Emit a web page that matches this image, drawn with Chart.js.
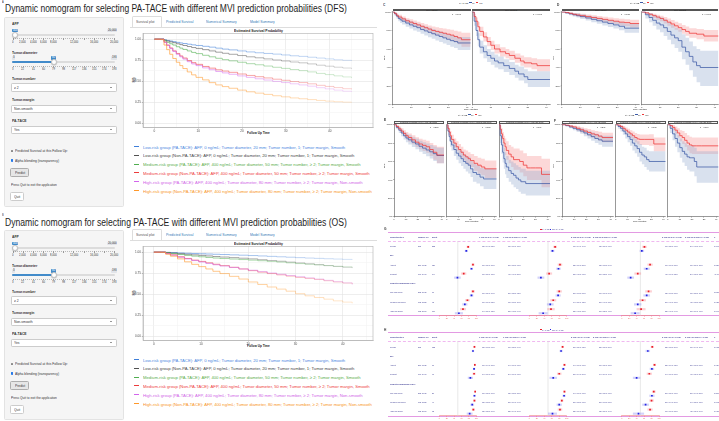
<!DOCTYPE html>
<html><head><meta charset="utf-8">
<script src="https://cdn.jsdelivr.net/npm/chart.js@4.4.1/dist/chart.umd.min.js"></script>
<style>
html,body{margin:0;padding:0;background:#fff;}
body{width:719px;height:421px;position:relative;overflow:hidden;font-family:"Liberation Sans",Arial,Helvetica,sans-serif;}
.t{position:absolute;white-space:nowrap;line-height:1;transform-origin:0 0;font-size:20px;color:#222;}
.b{position:absolute;box-sizing:border-box;}
canvas{position:absolute;}
</style></head><body>
<script>
// ================= DATA =================
// Panels A/B: DynNom predicted survival curves (6 profiles)
const groupLabels = [
  "Low-risk group (PA-TACE): AFP, 0 ng/mL; Tumor diameter, 20 mm; Tumor number, 1; Tumor margin, Smooth",
  "Low-risk group (Non-PA-TACE): AFP, 0 ng/mL; Tumor diameter, 20 mm; Tumor number, 1; Tumor margin, Smooth",
  "Medium-risk group (PA-TACE): AFP, 400 ng/mL; Tumor diameter, 50 mm; Tumor number, \u2265 2; Tumor margin, Smooth",
  "Medium-risk group (Non-PA-TACE): AFP, 400 ng/mL; Tumor diameter, 50 mm; Tumor number, \u2265 2; Tumor margin, Smooth",
  "High-risk group (PA-TACE): AFP, 400 ng/mL; Tumor diameter, 80 mm; Tumor number, \u2265 2; Tumor margin, Non-smooth",
  "High-risk group (Non-PA-TACE): AFP, 400 ng/mL; Tumor diameter, 80 mm; Tumor number, \u2265 2; Tumor margin, Non-smooth"
];
const dfsTime   = [0,1.5,2.2,2.8,3.5,4.2,5,5.8,6.5,7.5,8.5,9.5,11,12.5,14,15.5,17,19,21,23,25,27,29,31,33,35,37,39,41,43,45];
const dfsLowPA  = [1,1,0.992,0.985,0.978,0.97,0.962,0.955,0.948,0.94,0.932,0.925,0.915,0.905,0.893,0.882,0.872,0.86,0.848,0.838,0.83,0.822,0.812,0.802,0.795,0.785,0.775,0.765,0.755,0.748,0.742];
const dfsLowNon = [1,1,0.988,0.978,0.968,0.958,0.945,0.935,0.925,0.912,0.9,0.89,0.875,0.86,0.845,0.832,0.82,0.805,0.79,0.778,0.765,0.752,0.74,0.728,0.718,0.705,0.69,0.678,0.666,0.656,0.648];
const dfsMedPA  = [1,1,0.98,0.962,0.945,0.93,0.91,0.893,0.878,0.86,0.842,0.828,0.808,0.79,0.772,0.756,0.742,0.725,0.708,0.695,0.68,0.665,0.652,0.638,0.625,0.61,0.592,0.578,0.563,0.55,0.54];
const dfsMedNon = [1,1,0.965,0.93,0.895,0.86,0.83,0.8,0.775,0.745,0.72,0.7,0.675,0.655,0.635,0.62,0.605,0.585,0.568,0.553,0.538,0.523,0.51,0.495,0.483,0.468,0.45,0.437,0.423,0.41,0.402];
const dfsHighPA = [1,1,0.962,0.925,0.89,0.855,0.82,0.79,0.763,0.732,0.705,0.685,0.658,0.636,0.615,0.598,0.582,0.562,0.545,0.528,0.513,0.497,0.483,0.468,0.455,0.44,0.422,0.408,0.393,0.38,0.372];
const dfsHighNon= [1,0.995,0.93,0.875,0.82,0.77,0.725,0.685,0.65,0.61,0.575,0.545,0.515,0.482,0.455,0.435,0.415,0.393,0.373,0.357,0.342,0.326,0.313,0.3,0.29,0.28,0.27,0.262,0.255,0.25,0.247];

const osTime    = [0,1.5,2.5,3.5,5,6.5,8,9.5,11,12.5,14,16,18,20,22,24,26,28,30,32,34,36,38,40,42];
const osLowPA   = [1,1,0.998,0.995,0.99,0.987,0.984,0.981,0.978,0.975,0.972,0.968,0.964,0.96,0.955,0.95,0.945,0.94,0.935,0.93,0.926,0.922,0.918,0.914,0.91];
const osLowNon  = [1,1,0.996,0.99,0.982,0.975,0.968,0.962,0.955,0.948,0.942,0.935,0.928,0.92,0.91,0.9,0.892,0.882,0.872,0.862,0.852,0.84,0.83,0.82,0.81];
const osMedPA   = [1,1,0.993,0.984,0.972,0.962,0.953,0.945,0.937,0.93,0.924,0.918,0.912,0.905,0.898,0.89,0.882,0.873,0.864,0.856,0.848,0.84,0.832,0.825,0.818];
const osMedNon  = [1,1,0.985,0.968,0.945,0.925,0.905,0.89,0.873,0.856,0.84,0.82,0.8,0.78,0.762,0.745,0.73,0.715,0.7,0.688,0.675,0.66,0.645,0.632,0.62];
const osHighPA  = [1,1,0.983,0.965,0.94,0.92,0.9,0.883,0.866,0.85,0.835,0.818,0.8,0.785,0.768,0.752,0.737,0.722,0.708,0.694,0.68,0.665,0.65,0.635,0.61];
const osHighNon = [1,0.998,0.975,0.952,0.92,0.885,0.855,0.828,0.8,0.772,0.745,0.712,0.68,0.645,0.615,0.585,0.56,0.535,0.505,0.48,0.46,0.44,0.42,0.405,0.39];

// slider grids
const afpGrid = [0,2000,4000,6000,8000,10000,12000,14000,16000,18000,20000];
const afpGridLabels = [0,2000,4000,6000,8000,12000,16000,20000];
const diamGrid = [3,22,41,60,79,98,117,136,155,174,193];

// Panels C-F: Kaplan-Meier (no = Non-PA-TACE blue, yes = PA-TACE red); T time, S surv, L lower, U upper
const kmXTicks = [0,10,20,30,40];
const C1noT=[0,1,2,3,4,5,7,9,11,13,15,17,19,21,23,25,27,29,31,33,35,42];
const C1noS=[1,0.98,0.955,0.93,0.915,0.9,0.88,0.86,0.845,0.83,0.81,0.795,0.78,0.765,0.75,0.735,0.72,0.705,0.69,0.68,0.665,0.665];
const C1noL=[1,0.96,0.93,0.9,0.88,0.865,0.84,0.82,0.8,0.785,0.765,0.745,0.728,0.71,0.692,0.676,0.66,0.642,0.625,0.61,0.59,0.59];
const C1noU=[1,1,0.98,0.96,0.95,0.935,0.915,0.9,0.885,0.872,0.855,0.842,0.83,0.815,0.8,0.788,0.775,0.762,0.75,0.742,0.73,0.73];
const C1yesT=[0,1,2,3,5,7,9,11,13,15,17,19,21,23,25,27,29,31,33,35,37,42];
const C1yesS=[1,0.985,0.965,0.945,0.925,0.905,0.89,0.875,0.86,0.845,0.83,0.815,0.8,0.79,0.78,0.77,0.76,0.75,0.735,0.72,0.7,0.7];
const C1yesL=[1,0.97,0.945,0.92,0.9,0.878,0.86,0.843,0.826,0.81,0.793,0.776,0.758,0.746,0.733,0.72,0.706,0.692,0.672,0.652,0.625,0.625];
const C1yesU=[1,1,0.985,0.97,0.952,0.933,0.92,0.907,0.894,0.88,0.867,0.854,0.842,0.834,0.827,0.82,0.814,0.808,0.798,0.788,0.775,0.775];
const C2noT=[0,1,2,3,4,6,8,10,12,14,17,20,23,25,28,30,42];
const C2noS=[1,0.9,0.8,0.7,0.62,0.57,0.53,0.5,0.47,0.45,0.42,0.39,0.36,0.33,0.3,0.27,0.27];
const C2noL=[1,0.85,0.74,0.63,0.55,0.5,0.46,0.43,0.4,0.38,0.35,0.32,0.29,0.26,0.23,0.19,0.19];
const C2noU=[1,0.95,0.86,0.77,0.69,0.64,0.6,0.57,0.54,0.52,0.49,0.46,0.43,0.41,0.38,0.36,0.36];
const C2yesT=[0,1,2,3,4,6,8,10,12,15,18,20,23,26,28,32,35,42];
const C2yesS=[1,0.95,0.9,0.84,0.79,0.73,0.68,0.64,0.6,0.57,0.55,0.53,0.5,0.47,0.45,0.44,0.42,0.42];
const C2yesL=[1,0.92,0.86,0.8,0.74,0.68,0.63,0.59,0.55,0.52,0.5,0.48,0.45,0.42,0.4,0.38,0.36,0.36];
const C2yesU=[1,0.98,0.94,0.89,0.84,0.78,0.73,0.69,0.65,0.62,0.6,0.58,0.55,0.53,0.51,0.5,0.49,0.49];

const D1noT=[0,2,4,6,8,10,13,16,19,22,25,28,31,34,42];
const D1noS=[1,0.99,0.98,0.97,0.96,0.95,0.935,0.92,0.905,0.89,0.875,0.86,0.845,0.825,0.825];
const D1noL=[1,0.98,0.965,0.95,0.94,0.925,0.908,0.89,0.873,0.855,0.838,0.82,0.802,0.775,0.775];
const D1noU=[1,1,0.995,0.99,0.985,0.975,0.962,0.95,0.937,0.925,0.912,0.9,0.888,0.875,0.875];
const D1yesT=[0,2,4,6,8,10,13,16,19,22,25,28,31,34,37,42];
const D1yesS=[1,0.995,0.985,0.975,0.968,0.96,0.95,0.94,0.93,0.92,0.91,0.9,0.89,0.885,0.875,0.875];
const D1yesL=[1,0.985,0.972,0.96,0.95,0.94,0.928,0.916,0.904,0.892,0.88,0.867,0.854,0.846,0.832,0.832];
const D1yesU=[1,1,0.996,0.99,0.985,0.98,0.972,0.964,0.956,0.948,0.94,0.933,0.926,0.922,0.916,0.916];
const D2noT=[0,2,4,6,8,10,12,14,16,18,20,22,24,26,28,30,32,42];
const D2noS=[1,0.97,0.94,0.91,0.88,0.86,0.83,0.79,0.75,0.72,0.69,0.62,0.57,0.52,0.46,0.42,0.4,0.4];
const D2noL=[1,0.93,0.89,0.85,0.81,0.78,0.74,0.7,0.65,0.61,0.57,0.49,0.43,0.37,0.3,0.24,0.2,0.2];
const D2noU=[1,1,0.99,0.97,0.95,0.94,0.92,0.89,0.86,0.83,0.81,0.76,0.72,0.68,0.63,0.6,0.58,0.58];
const D2yesT=[0,2,4,6,8,10,12,14,16,18,20,22,24,26,30,34,42];
const D2yesS=[1,0.99,0.975,0.96,0.945,0.93,0.91,0.89,0.87,0.85,0.83,0.81,0.79,0.77,0.76,0.74,0.74];
const D2yesL=[1,0.975,0.955,0.935,0.915,0.9,0.875,0.852,0.83,0.808,0.786,0.764,0.742,0.72,0.706,0.68,0.68];
const D2yesU=[1,1,0.99,0.98,0.97,0.96,0.945,0.93,0.912,0.895,0.878,0.86,0.842,0.825,0.816,0.805,0.805];

const E1noT=[0,2,4,6,8,10,12,15,18,21,24,27,30,33,36,42];
const E1noS=[1,0.97,0.94,0.91,0.88,0.855,0.835,0.81,0.79,0.765,0.745,0.725,0.705,0.685,0.665,0.665];
const E1noL=[1,0.95,0.91,0.875,0.84,0.81,0.785,0.757,0.733,0.705,0.68,0.656,0.632,0.606,0.58,0.58];
const E1noU=[1,0.99,0.97,0.945,0.92,0.9,0.885,0.863,0.847,0.825,0.81,0.794,0.778,0.764,0.75,0.75];
const E1yesT=[0,2,4,6,8,10,12,15,18,21,24,27,30,33,36,42];
const E1yesS=[1,0.98,0.955,0.93,0.905,0.88,0.86,0.835,0.81,0.79,0.775,0.76,0.73,0.7,0.67,0.67];
const E1yesL=[1,0.96,0.93,0.9,0.87,0.84,0.815,0.786,0.756,0.732,0.714,0.696,0.66,0.62,0.58,0.58];
const E1yesU=[1,1,0.98,0.96,0.94,0.92,0.905,0.884,0.864,0.848,0.836,0.824,0.8,0.78,0.76,0.76];
const E2noT=[0,1,2,3,4,6,8,10,12,14,16,18,20,22,25,28,31,42];
const E2noS=[1,0.93,0.87,0.82,0.78,0.73,0.69,0.66,0.63,0.6,0.58,0.56,0.52,0.48,0.46,0.43,0.41,0.41];
const E2noL=[1,0.89,0.82,0.76,0.72,0.66,0.62,0.58,0.55,0.52,0.49,0.47,0.43,0.38,0.36,0.33,0.3,0.3];
const E2noU=[1,0.97,0.92,0.88,0.84,0.8,0.76,0.73,0.71,0.68,0.66,0.65,0.61,0.58,0.56,0.53,0.52,0.52];
const E2yesT=[0,1,2,3,4,6,8,10,12,14,16,18,20,23,26,29,32,42];
const E2yesS=[1,0.96,0.92,0.88,0.84,0.8,0.76,0.73,0.7,0.67,0.65,0.63,0.61,0.58,0.56,0.54,0.52,0.52];
const E2yesL=[1,0.93,0.88,0.83,0.79,0.75,0.71,0.67,0.64,0.61,0.58,0.56,0.54,0.5,0.47,0.45,0.42,0.42];
const E2yesU=[1,0.99,0.96,0.93,0.89,0.85,0.82,0.79,0.76,0.73,0.72,0.7,0.68,0.66,0.64,0.63,0.61,0.61];
const E3noT=[0,1,2,3,4,5,6,8,10,12,14,16,18,22,42];
const E3noS=[1,0.88,0.78,0.7,0.63,0.58,0.54,0.5,0.47,0.45,0.42,0.4,0.38,0.36,0.36];
const E3noL=[1,0.8,0.68,0.59,0.52,0.46,0.42,0.38,0.35,0.32,0.3,0.27,0.25,0.23,0.23];
const E3noU=[1,0.95,0.88,0.81,0.75,0.7,0.66,0.62,0.6,0.58,0.56,0.54,0.52,0.5,0.5];
const E3yesT=[0,1,2,3,4,5,6,8,10,12,14,17,20,23,26,30,35,42];
const E3yesS=[1,0.95,0.9,0.85,0.8,0.76,0.72,0.68,0.65,0.62,0.62,0.6,0.56,0.53,0.53,0.53,0.46,0.46];
const E3yesL=[1,0.9,0.83,0.77,0.71,0.67,0.62,0.58,0.54,0.51,0.51,0.48,0.44,0.4,0.4,0.4,0.32,0.32];
const E3yesU=[1,0.99,0.96,0.92,0.88,0.85,0.82,0.78,0.76,0.74,0.74,0.72,0.69,0.66,0.66,0.66,0.63,0.63];

const F1noT=[0,3,6,9,12,15,18,21,24,27,30,33,42];
const F1noS=[1,0.99,0.975,0.96,0.945,0.93,0.91,0.89,0.87,0.85,0.835,0.82,0.82];
const F1noL=[1,0.98,0.96,0.94,0.92,0.9,0.875,0.85,0.825,0.8,0.782,0.76,0.76];
const F1noU=[1,1,0.99,0.98,0.97,0.96,0.945,0.93,0.915,0.9,0.888,0.88,0.88];
const F1yesT=[0,3,6,9,12,15,18,21,24,27,30,33,42];
const F1yesS=[1,0.995,0.985,0.975,0.96,0.945,0.93,0.915,0.9,0.89,0.875,0.86,0.86];
const F1yesL=[1,0.985,0.97,0.955,0.935,0.915,0.897,0.878,0.86,0.846,0.828,0.81,0.81];
const F1yesU=[1,1,0.997,0.992,0.982,0.972,0.962,0.952,0.94,0.932,0.922,0.912,0.912];
const F2noT=[0,2,4,6,8,10,12,14,16,18,20,22,24,26,28,42];
const F2noS=[1,0.98,0.96,0.93,0.9,0.87,0.84,0.8,0.77,0.74,0.7,0.67,0.65,0.62,0.6,0.6];
const F2noL=[1,0.955,0.925,0.89,0.85,0.81,0.77,0.72,0.69,0.65,0.6,0.57,0.54,0.51,0.49,0.49];
const F2noU=[1,1,0.99,0.97,0.945,0.92,0.9,0.87,0.85,0.82,0.79,0.76,0.75,0.72,0.71,0.71];
const F2yesT=[0,2,4,6,8,10,12,14,16,18,20,24,28,32,42];
const F2yesS=[1,0.995,0.98,0.96,0.94,0.92,0.9,0.88,0.86,0.845,0.84,0.84,0.84,0.79,0.79];
const F2yesL=[1,0.98,0.96,0.93,0.905,0.88,0.855,0.83,0.805,0.787,0.78,0.78,0.77,0.71,0.71];
const F2yesU=[1,1,0.995,0.985,0.97,0.955,0.94,0.925,0.91,0.898,0.893,0.893,0.895,0.86,0.86];
const F3noT=[0,2,4,6,8,10,12,14,16,18,20,22,24,42];
const F3noS=[1,0.96,0.9,0.85,0.8,0.75,0.71,0.68,0.65,0.64,0.64,0.6,0.54,0.54];
const F3noL=[1,0.91,0.83,0.76,0.7,0.64,0.59,0.55,0.51,0.49,0.49,0.44,0.37,0.37];
const F3noU=[1,1,0.96,0.93,0.89,0.85,0.82,0.8,0.78,0.77,0.77,0.75,0.71,0.71];
const F3yesT=[0,2,4,6,8,10,12,14,16,18,20,24,28,42];
const F3yesS=[1,0.99,0.97,0.94,0.91,0.88,0.86,0.83,0.8,0.78,0.77,0.77,0.77,0.77];
const F3yesL=[1,0.97,0.94,0.9,0.86,0.82,0.79,0.76,0.72,0.69,0.68,0.68,0.68,0.68];
const F3yesU=[1,1,0.995,0.98,0.96,0.94,0.93,0.91,0.885,0.87,0.86,0.86,0.86,0.86];

// Panels G/H: forest plots (% survival), data rows = Overall, Absent, Present, Low, Medium, High
const forestRowLabels = ["Overall","MVI","Absent","Present","Predicted nomogram of MVI","Low-risk group","Medium-risk group","High-risk group"];
const forestDataRows = [0,2,3,5,6,7];
const forestN  = ["568","","371 (65.3)","197 (34.7)","","213 (37.5)","192 (33.8)","163 (28.7)"];
const gEvents  = ["283","","139","144","","76","98","109"];
const hEvents  = ["152","","61","91","","31","49","72"];
const gP = ["0.107","","0.226","<0.001","","0.558","0.038","0.007"];
const hP = ["0.013","","0.129","<0.001","","0.387","0.003","0.018"];
const g1Red=[78,91,66,91,76,64], g1RedLo=[74,87,59,86,70,56], g1RedHi=[82,95,73,96,82,72];
const g1Blue=[73,87,49,87,69,53], g1BlueLo=[69,83,40,82,62,42], g1BlueHi=[77,91,58,92,76,64];
const g2Red=[69,82,53,80,64,58], g2RedLo=[64,76,45,73,56,48], g2RedHi=[74,88,61,87,72,68];
const g2Blue=[62,78,31,77,56,37], g2BlueLo=[57,72,22,70,47,25], g2BlueHi=[67,84,40,84,65,49];
const g3Red=[61,76,43,72,56,52], g3RedLo=[55,69,34,63,47,40], g3RedHi=[67,83,52,81,65,64];
const g3Blue=[54,67,24,67,43,36], g3BlueLo=[48,59,15,58,33,24], g3BlueHi=[60,75,33,76,53,48];
const h1Red=[95,96,94,97,95,92], h1RedLo=[93,94,90,95,92,88], h1RedHi=[97,98,98,99,98,96];
const h1Blue=[91,94,84,95,89,82], h1BlueLo=[88,91,77,92,84,74], h1BlueHi=[94,97,91,98,94,90];
const h2Red=[89,94,80,94,87,82], h2RedLo=[86,91,74,91,83,76], h2RedHi=[92,97,86,97,91,88];
const h2Blue=[85,91,64,93,80,62], h2BlueLo=[81,87,54,89,73,50], h2BlueHi=[89,95,74,97,87,74];
const h3Red=[82,88,74,86,80,76], h3RedLo=[78,84,67,81,74,69], h3RedHi=[86,92,81,91,86,83];
const h3Blue=[70,81,40,81,64,45], h3BlueLo=[64,75,30,74,55,30], h3BlueHi=[76,87,50,88,73,60];
const forestTicks=[0,20,40,60,80,100];

// ================= HELPERS =================
Chart.defaults.font.family='"Liberation Sans", Arial, sans-serif';
function mkText(s,o){const d=document.createElement('div');d.className='t';d.textContent=s;if(o.c)d.style.color=o.c;if(o.b)d.style.fontWeight='bold';document.body.appendChild(d);return d;}
function txt(x,yc,s,size,o={}){const d=mkText(s,o);const k=size/20;const w0=d.offsetWidth;const kx=o.w?o.w/w0:k;const w=w0*kx;let l=x;if(o.a==='c')l=x-w/2;else if(o.a==='r')l=x-w;d.style.left=l+'px';d.style.top=(yc-size*0.5)+'px';d.style.transform=`scale(${kx},${k})`;d._w=w;d._l=l;return d;}
function vtxt(xc,yc,s,size,o={}){const d=mkText(s,o);const w0=d.offsetWidth;d.style.left=(xc-w0/2)+'px';d.style.top=(yc-10)+'px';d.style.transformOrigin='50% 50%';d.style.transform=`rotate(-90deg) scale(${size/20})`;return d;}
function box(x,y,w,h,css){const d=document.createElement('div');d.className='b';d.style.cssText+=`left:${x}px;top:${y}px;width:${w}px;height:${h}px;`+(css||'');document.body.appendChild(d);return d;}
function pill(x,yc,s,size,bg,col,anchor){const d=txt(x,yc,s,size,{c:col,a:anchor});const b=box(d._l-1,yc-size*0.62,d._w+2,size*1.24,`background:${bg};border-radius:0.8px;`);document.body.insertBefore(b,d);return d;}
function mkChart(l,t,w,h,cfg){const c=document.createElement('canvas');c.width=w;c.height=h;c.style.left=l+'px';c.style.top=t+'px';c.style.width=w+'px';c.style.height=h+'px';document.body.appendChild(c);
  cfg.options=Object.assign({responsive:false,maintainAspectRatio:false,animation:false,devicePixelRatio:1,events:[]},cfg.options);
  cfg.options.plugins=Object.assign({legend:{display:false},tooltip:{enabled:false},title:{display:false}},cfg.options.plugins||{});
  return new Chart(c,cfg);}
function rgba(hex,a){const n=parseInt(hex.slice(1),16);return `rgba(${n>>16},${(n>>8)&255},${n&255},${a})`;}

// ================= PANELS A / B (Shiny DynNom) =================
const survColors=['#3f7fd9','#505050','#4fae4f','#ec3b3b','#d264ec','#ff982a'];
const legendTextColors=['#4a86e0','#444444','#5aad4a','#ee3c3c','#cf5fe6','#f7941e'];

function slider(yt,vmin,vmax,val,valTxt,minTxt,maxTxt,grid,labels){
  const xa=12.7,xb=114.3,px=v=>xa+(v-vmin)/(vmax-vmin)*(xb-xa);
  box(xa-1,yt-0.9,xb-xa+2,1.8,'background:#dcdcdc;border-radius:1px;');
  box(xa-1,yt-0.9,px(val)-xa+1,1.8,'background:#428bca;border-radius:1px;');
  for(let i=0;i<grid.length;i++){
    box(px(grid[i])-0.2,yt+3.3,0.4,1.8,'background:#999;');
    if(i<grid.length-1){for(let m=1;m<5;m++){const v=grid[i]+(grid[i+1]-grid[i])*m/5;box(px(v)-0.15,yt+3.3,0.3,1,'background:#bbb;');}}
  }
  labels.forEach(v=>txt(px(v),yt+7.1,v.toLocaleString('en-US'),2.7,{a:'c',c:'#333'}));
  if(minTxt)pill(13.5,yt-4.5,minTxt,2.8,'#e1e4e9','#333','c');
  pill(116.2,yt-4.5,maxTxt,2.8,'#e1e4e9','#333','r');
  pill(Math.max(px(val),15),yt-4.5,valTxt,2.8,'#428bca','#fff','c');
  box(Math.max(px(val),15)-3.2,yt-3.2,6.4,6.4,'background:#fff;border:0.5px solid #c4c4c4;border-radius:50%;box-shadow:0 0.4px 1px rgba(0,0,0,0.25);');
}
function selectBox(y0,y1,t){box(11,y0,106.3,y1-y0,'background:#fff;border:0.5px solid #ccc;border-radius:1.2px;');txt(14,(y0+y1)/2,t,3.4,{c:'#333'});box(110.2,(y0+y1)/2-0.6,0,0,'box-sizing:content-box;border-left:1.1px solid transparent;border-right:1.1px solid transparent;border-top:1.2px solid #333;');}
function checkbox(yc,checked,label){box(10.7,yc-1.4,2.8,2.8,checked?'background:#1a73e8;border-radius:0.5px;':'background:#fff;border:0.4px solid #888;border-radius:0.5px;');if(checked)txt(12.1,yc,'\u2713',2.4,{a:'c',c:'#fff',b:1});txt(15,yc,label,3.3,{c:'#333'});}
function button(x,y,w,h,t,bg,bd){box(x,y,w,h,`background:${bg};border:0.5px solid ${bd};border-radius:1.5px;`);txt(x+w/2,y+h/2,t,3.3,{a:'c',c:'#333'});}

const framePlugin={id:'frame',afterDraw(ch){const a=ch.chartArea,c=ch.ctx;c.save();c.strokeStyle='#b0b0b0';c.lineWidth=0.6;c.strokeRect(a.left,a.top,a.right-a.left,a.bottom-a.top);c.restore();}};

function shinyPanel(oy,letter,titleY,title,times,series,xmin,xmax,xend){
  txt(1.5,2+oy,letter,2.6,{c:'#333'});
  txt(5,titleY,title,10,{w:342,c:'#1e1e1e'});
  box(4.3,16.7+oy,119.7,190,'background:#f5f5f5;border:0.5px solid #e3e3e3;border-radius:1.5px;');
  txt(11.7,24+oy,'AFP',3.4,{b:1,c:'#333'});
  slider(35+oy,0,20000,400,'400',null,'20,000',afpGrid,afpGridLabels);
  txt(11.7,52.3+oy,'Tumor.diameter',3.4,{b:1,c:'#333'});
  slider(62.3+oy,3,193,80,'80','3','193',diamGrid,diamGrid);
  txt(11.7,78.3+oy,'Tumor.number',3.4,{b:1,c:'#333'});
  selectBox(83.3+oy,92+oy,'\u2265 2');
  txt(11.7,100+oy,'Tumor.margin',3.4,{b:1,c:'#333'});
  selectBox(104.7+oy,113.3+oy,'Non-smooth');
  txt(11.7,121+oy,'PA-TACE',3.4,{b:1,c:'#333'});
  selectBox(125.7+oy,134.3+oy,'Yes');
  checkbox(151+oy,false,'Predicted Survival at this Follow Up:');
  checkbox(160.7+oy,true,'Alpha blending (transparency)');
  button(10,167.7+oy,19.3,9,'Predict','#e6e6e6','#adadad');
  txt(10.7,185+oy,'Press Quit to exit the application',3.2,{c:'#333'});
  button(10,191.7+oy,14.3,9,'Quit','#fff','#ccc');
  // tabs
  box(130,26.5+oy,247,0.5,'background:#ddd;');
  box(131.7,15.7+oy,30,11.3,'background:#fff;border:0.5px solid #ddd;border-bottom:none;border-radius:1.5px 1.5px 0 0;');
  txt(136,21.7+oy,'Survival plot',3.4,{c:'#555'});
  txt(166,21.7+oy,'Predicted Survival',3.4,{c:'#337ab7'});
  txt(206,21.7+oy,'Numerical Summary',3.4,{c:'#337ab7'});
  txt(250,21.7+oy,'Model Summary',3.4,{c:'#337ab7'});
  // plot
  txt(258,30.7+oy,'Estimated Survival Probability',3.4,{a:'c',b:1});
  txt(258,132.7+oy,'Follow Up Time',3.1,{a:'c',b:1});
  vtxt(133.3,80.3+oy,'S(t)',3.1,{b:1});
  const x0=143,x1=373,y0=33.3+oy,y1=127.3+oy;
  const left=125,top=Math.floor(y0-4),W=252,H=Math.ceil(y1+9)-top;
  const isMajX=v=>Math.abs(v%10)<1e-6, isMajY=v=>{const q=v*4;return Math.abs(q-Math.round(q))<1e-6;};
  mkChart(left,top,W,H,{type:'line',
    data:{datasets:series.map((s,i)=>({data:times.map((t,j)=>({x:t,y:s[j]})),borderColor:survColors[i],borderWidth:0.8,pointRadius:0,stepped:'before',fill:false,order:6-i,
      segment:{borderColor:ctx=>rgba(survColors[i],0.85-0.6*Math.min(1,ctx.p0.parsed.x/xend))}}))},
    options:{layout:{padding:{left:0,top:y0-top,right:left+W-x1,bottom:0}},
      scales:{
        x:{type:'linear',min:xmin,max:xmax,afterFit:s=>{s.height=top+H-y1;},
          ticks:{stepSize:5,includeBounds:false,autoSkip:false,maxRotation:0,padding:0.8,font:{size:3.1},color:'#4d4d4d',callback:v=>isMajX(v)?String(v):''},
          grid:{color:c=>c.tick&&isMajX(c.tick.value)?'#e3e3e3':'#f3f3f3',lineWidth:0.6,tickLength:1.2,tickColor:c=>c.tick&&isMajX(c.tick.value)?'#666':'rgba(0,0,0,0)',tickWidth:0.5},
          border:{color:'#b0b0b0',width:0.6}},
        y:{min:-0.05,max:1.07,afterFit:s=>{s.width=x0-left;},
          ticks:{stepSize:0.125,includeBounds:false,autoSkip:false,padding:0.8,font:{size:3.1},color:'#4d4d4d',callback:v=>isMajY(v)?v.toFixed(2):''},
          grid:{color:c=>c.tick&&isMajY(c.tick.value)?'#e3e3e3':'#f3f3f3',lineWidth:0.6,tickLength:1.2,tickColor:c=>c.tick&&isMajY(c.tick.value)?'#666':'rgba(0,0,0,0)',tickWidth:0.5},
          border:{color:'#b0b0b0',width:0.6}}}},
    plugins:[framePlugin]});
  // legend
  const ly=[146.7,155.3,164,172.7,181.7,190.7];
  groupLabels.forEach((s,i)=>{box(133.5,ly[i]+oy-0.35,5.5,0.7,`background:${survColors[i]};`);txt(143,ly[i]+oy,s,4.2,{c:legendTextColors[i]});});
}
shinyPanel(0,'A',8.3,'Dynamic nomogram for selecting PA-TACE with different MVI prediction probabilities (DFS)',dfsTime,[dfsLowPA,dfsLowNon,dfsMedPA,dfsMedNon,dfsHighPA,dfsHighNon],-2.6,49.9,45);
shinyPanel(213,'B',222.3,'Dynamic nomogram for selecting PA-TACE with different MVI prediction probabilities (OS)',osTime,[osLowPA,osLowNon,osMedPA,osMedNon,osHighPA,osHighNon],-2.3,46.4,42);

// ================= PANELS C-F (Kaplan-Meier) =================
const kmBlue='#3c5aa6',kmRed='#ee3535',kmBlueBand='rgba(150,172,208,0.36)',kmRedBand='rgba(246,125,125,0.3)';
function kmFacet(x0,x1,y0,y1,curves,showY){
  const left=Math.floor(x0-(showY?12:2)),top=Math.floor(y0-3),right=Math.ceil(x1+2),bottom=Math.ceil(y1+4.5);
  const W=right-left,H=bottom-top;
  const ds=[];
  curves.forEach((c,k)=>{
    ds.push({data:c.t.map((t,i)=>({x:t,y:c.l[i]})),borderWidth:0,pointRadius:0,stepped:'before',fill:false,order:2});
    ds.push({data:c.t.map((t,i)=>({x:t,y:c.u[i]})),borderWidth:0,pointRadius:0,stepped:'before',fill:'-1',backgroundColor:k?kmRedBand:kmBlueBand,order:2});
  });
  curves.forEach((c,k)=>ds.push({data:c.t.map((t,i)=>({x:t,y:c.s[i]})),borderColor:k?kmRed:kmBlue,borderWidth:0.75,pointRadius:0,stepped:'before',fill:false,order:k?0:0.5}));
  mkChart(left,top,W,H,{type:'line',data:{datasets:ds},
    options:{layout:{padding:{left:0,top:y0-top,right:right-x1,bottom:0}},
      scales:{
        x:{type:'linear',min:0,max:42,afterFit:s=>{s.height=bottom-y1;},
          afterBuildTicks:s=>{s.ticks=kmXTicks.map(v=>({value:v}));},
          ticks:{autoSkip:false,maxRotation:0,padding:0.4,font:{size:2.4},color:'#222'},
          grid:{drawOnChartArea:false,tickLength:0.9,color:'#333',lineWidth:0.4},border:{color:'#333',width:0.5}},
        y:{min:0,max:1.005,afterFit:s=>{s.width=x0-left;},
          ticks:{display:showY,stepSize:0.2,includeBounds:false,padding:0.4,font:{size:2.4},color:'#222',callback:v=>Math.round(v*100)+'%'},
          grid:{display:showY,drawOnChartArea:false,tickLength:0.9,color:'#333',lineWidth:0.4},border:{color:'#333',width:0.5}}}}});
}
function strip(x0,x1,y0,y1,s,size){box(x0,y0,x1-x0,y1-y0,'background:#f3f3f3;border:0.4px solid #555;');txt((x0+x1)/2,(y0+y1)/2,s,size,{a:'c',c:'#222'});}
function kmLegend(x,yc){let cx=x;const s=2.2;let d=txt(cx,yc,'PA-TACE',s,{c:'#222'});cx+=d._w+1;
  box(cx,yc-0.3,2.6,0.6,`background:${kmBlue};`);cx+=3.1;d=txt(cx,yc,'no',s,{c:'#222'});cx+=d._w+1;
  box(cx,yc-0.3,2.6,0.6,`background:${kmRed};`);cx+=3.1;txt(cx,yc,'yes',s,{c:'#222'});}
function cv(t,s,l,u){return {t,s,l,u};}

// C
txt(383.3,5,'C',3.2,{b:1,c:'#333'}); kmLegend(459,2.7);
strip(392.7,470.7,8.7,11.5,'MVI: Absent',2.1); strip(472.3,550,8.7,11.5,'MVI: Present',2.1);
kmFacet(392.7,470.7,11.5,104.5,[cv(C1noT,C1noS,C1noL,C1noU),cv(C1yesT,C1yesS,C1yesL,C1yesU)],true);
kmFacet(472.3,550,11.5,104.5,[cv(C2noT,C2noS,C2noL,C2noU),cv(C2yesT,C2yesS,C2yesL,C2yesU)],false);
txt(452,14,'p = 0.107',2.1,{c:'#222'}); txt(533,14,'p < 0.001',2.1,{c:'#222'});
vtxt(384.2,58,'DFS',2.3,{c:'#222'}); txt(471.5,108.6,'Time (months)',2.2,{a:'c',c:'#222'});
// D
txt(556.7,5,'D',3.2,{b:1,c:'#333'}); kmLegend(630,2.7);
strip(561.7,639.3,8.7,11.5,'MVI: Absent',2.1); strip(641.7,718.5,8.7,11.5,'MVI: Present',2.1);
kmFacet(561.7,639.3,11.5,104.5,[cv(D1noT,D1noS,D1noL,D1noU),cv(D1yesT,D1yesS,D1yesL,D1yesU)],true);
kmFacet(641.7,718.5,11.5,104.5,[cv(D2noT,D2noS,D2noL,D2noU),cv(D2yesT,D2yesS,D2yesL,D2yesU)],false);
txt(620.5,14,'p = 0.129',2.1,{c:'#222'}); txt(702,14,'p < 0.001',2.1,{c:'#222'});
vtxt(553.5,58,'OS',2.3,{c:'#222'}); txt(640,108.6,'Time (months)',2.2,{a:'c',c:'#222'});
// E
txt(384,119.7,'E',3.2,{b:1,c:'#333'}); kmLegend(458,114.7);
strip(394,444,120.5,124,'Predicted nomogram of MVI: Low-risk group',1.9);
strip(446.7,496.7,120.5,124,'Predicted nomogram of MVI: Medium-risk group',1.9);
strip(499,550,120.5,124,'Predicted nomogram of MVI: High-risk group',1.9);
kmFacet(394,444,124.2,216.7,[cv(E1noT,E1noS,E1noL,E1noU),cv(E1yesT,E1yesS,E1yesL,E1yesU)],true);
kmFacet(446.7,496.7,124.2,216.7,[cv(E2noT,E2noS,E2noL,E2noU),cv(E2yesT,E2yesS,E2yesL,E2yesU)],false);
kmFacet(499,550,124.2,216.7,[cv(E3noT,E3noS,E3noL,E3noU),cv(E3yesT,E3yesS,E3yesL,E3yesU)],false);
txt(430,127,'p = 0.558',2,{c:'#222'}); txt(481.7,127,'p = 0.038',2,{c:'#222'}); txt(533,127,'p = 0.007',2,{c:'#222'});
vtxt(383.5,166,'DFS',2.3,{c:'#222'}); txt(472,221.4,'Time (months)',2.1,{a:'c',c:'#222'});
// F
txt(554,120.7,'F',3.2,{b:1,c:'#333'}); kmLegend(625,114.7);
strip(562,613,120.5,124,'Predicted nomogram of MVI: Low-risk group',1.9);
strip(615.7,665.7,120.5,124,'Predicted nomogram of MVI: Medium-risk group',1.9);
strip(667.7,718.5,120.5,124,'Predicted nomogram of MVI: High-risk group',1.9);
kmFacet(562,613,124.2,216.7,[cv(F1noT,F1noS,F1noL,F1noU),cv(F1yesT,F1yesS,F1yesL,F1yesU)],true);
kmFacet(615.7,665.7,124.2,216.7,[cv(F2noT,F2noS,F2noL,F2noU),cv(F2yesT,F2yesS,F2yesL,F2yesU)],false);
kmFacet(667.7,718.5,124.2,216.7,[cv(F3noT,F3noS,F3noL,F3noU),cv(F3yesT,F3yesS,F3yesL,F3yesU)],false);
txt(596.7,127,'p = 0.387',2,{c:'#222'}); txt(648.3,127,'p = 0.003',2,{c:'#222'}); txt(700,127,'p = 0.018',2,{c:'#222'});
vtxt(553.3,166,'OS',2.3,{c:'#222'}); txt(640,221.4,'Time (months)',2.1,{a:'c',c:'#222'});

// ================= PANELS G / H (forest plots) =================
const fColor='#3b3b92';
const forestRowY=[246.2,255.4,264.7,273.9,283.2,292.4,301.7,310.9];
const ciPlugin={id:'ci',beforeDatasetsDraw(ch){const {ctx,chartArea:a,scales:{x,y}}=ch;ctx.save();
  ctx.strokeStyle='#d6d6d6';ctx.lineWidth=0.6;const rx=x.getPixelForValue(50);ctx.beginPath();ctx.moveTo(rx,a.top);ctx.lineTo(rx,a.bottom);ctx.stroke();
  ch.data.datasets.forEach(ds=>{ctx.fillStyle=ds.ciColor;ds.data.forEach((p,i)=>{const xl=x.getPixelForValue(ds.lo[i]),xh=x.getPixelForValue(ds.hi[i]),yy=y.getPixelForValue(p.y);ctx.fillRect(xl,yy-1.1,xh-xl,2.2);});});
  ctx.restore();}};
function forestCol(x0,x1,y0,y1,red,redLo,redHi,blue,blueLo,blueHi){
  const left=Math.floor(x0-4),right=Math.ceil(x1+4),top=Math.floor(y0-1),bottom=Math.ceil(y1+5.5);
  const W=right-left,H=bottom-top;
  mkChart(left,top,W,H,{type:'scatter',data:{datasets:[
    {data:forestDataRows.map((r,i)=>({x:red[i],y:r-0.23})),lo:redLo,hi:redHi,ciColor:'rgba(250,120,130,0.35)',pointStyle:'rect',pointRadius:1.2,backgroundColor:'#e8202a',borderWidth:0},
    {data:forestDataRows.map((r,i)=>({x:blue[i],y:r+0.23})),lo:blueLo,hi:blueHi,ciColor:'rgba(110,110,240,0.3)',pointStyle:'rect',pointRadius:1.2,backgroundColor:'#2424e0',borderWidth:0}]},
    options:{layout:{padding:{left:x0-left,top:y0-top,right:right-x1,bottom:0}},
      scales:{
        x:{type:'linear',min:0,max:100,afterFit:s=>{s.height=bottom-y1;},afterBuildTicks:s=>{s.ticks=forestTicks.map(v=>({value:v}));},
          ticks:{autoSkip:false,maxRotation:0,padding:0.6,font:{size:1.9},color:'#e85a5a'},
          grid:{drawOnChartArea:false,tickLength:1.2,color:'#f08080',lineWidth:0.5},border:{color:'#f08080',width:0.6}},
        y:{display:false,min:-0.886,max:7.48,reverse:true}}},
    plugins:[ciPlugin]});
}
function fmtCI(e,l,h){return `${e.toFixed(1)} (${l.toFixed(1)}-${h.toFixed(1)})`;}
function forestPanel(oy,letter,metric,events,pvals,cols){
  txt(383.5,229+oy,letter,3.2,{b:1,c:'#333'});
  box(540.3,228.6+oy,1.4,1.4,'background:#e8202a;'); txt(542.2,229.3+oy,'PA-TACE',1.8,{c:fColor});
  box(549.6,228.6+oy,1.4,1.4,'background:#2424e0;'); txt(551.5,229.3+oy,'Non-PA-TACE',1.8,{c:fColor});
  box(388.3,231.6+oy,331,0.8,'background:#e39ae3;');
  box(388.3,240.6+oy,331,0.5,'border-top:0.5px dashed #f0b8f0;');
  box(388.3,315.1+oy,331,0.8,'background:#e39ae3;');
  const hy=237+oy;
  txt(389.5,hy,'Characteristics',1.9,{c:fColor,b:1}); txt(418,hy,'Number (%)',1.9,{c:fColor,b:1}); txt(431.7,hy,'Event',1.9,{c:fColor,b:1});
  const hx=[479,502.7,570.7,593.3,661.7,685], yrs=['1-year','2-year','3-year'];
  yrs.forEach((yr,c)=>{txt(hx[2*c],hy,`${yr} ${metric} (PA-TACE)`,1.9,{c:fColor,b:1});txt(hx[2*c+1],hy,`${yr} ${metric} (Non-PA-TACE)`,1.9,{c:fColor,b:1});});
  txt(713.5,hy,'P',1.9,{c:fColor,b:1});
  forestRowLabels.forEach((s,i)=>{const y=forestRowY[i]+oy;const hdr=(i===1||i===4);
    txt(389.5,y,s,1.9,{c:fColor,b:hdr});
    if(forestN[i])txt(418.3,y,forestN[i],1.9,{c:fColor});
    if(events[i])txt(431.7,y,events[i],1.9,{c:fColor});
    if(pvals[i])txt(713.5,y,pvals[i],1.9,{c:fColor});});
  const vx=[482.3,507.7,573,599,665,690];
  const xr=[[439.3,476.3],[529.3,566.7],[621.7,659]];
  cols.forEach((c,k)=>{
    forestDataRows.forEach((r,i)=>{const y=forestRowY[r]+oy;txt(vx[2*k],y,fmtCI(c[0][i],c[1][i],c[2][i]),1.8,{c:fColor});txt(vx[2*k+1],y,fmtCI(c[3][i],c[4][i],c[5][i]),1.8,{c:fColor});});
    forestCol(xr[k][0],xr[k][1],238+oy,315.5+oy,c[0],c[1],c[2],c[3],c[4],c[5]);
  });
}
forestPanel(0,'G','DFS',gEvents,gP,[[g1Red,g1RedLo,g1RedHi,g1Blue,g1BlueLo,g1BlueHi],[g2Red,g2RedLo,g2RedHi,g2Blue,g2BlueLo,g2BlueHi],[g3Red,g3RedLo,g3RedHi,g3Blue,g3BlueLo,g3BlueHi]]);
forestPanel(100.4,'H','OS',hEvents,hP,[[h1Red,h1RedLo,h1RedHi,h1Blue,h1BlueLo,h1BlueHi],[h2Red,h2RedLo,h2RedHi,h2Blue,h2BlueLo,h2BlueHi],[h3Red,h3RedLo,h3RedHi,h3Blue,h3BlueLo,h3BlueHi]]);
</script>
</body></html>
